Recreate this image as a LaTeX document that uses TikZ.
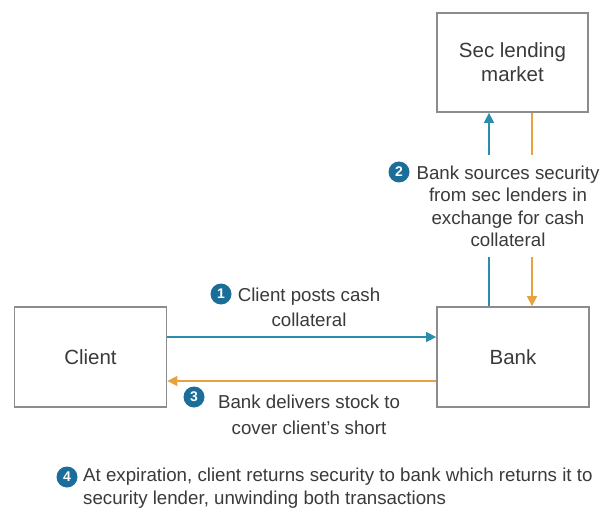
\documentclass[tikz,border=0pt]{standalone}
\usepackage{fontspec}
\setmainfont{Liberation Sans}
\usetikzlibrary{arrows.meta}
\definecolor{boxgray}{HTML}{8C8C8C}
\definecolor{txt}{HTML}{3A3A3A}
\definecolor{tealarr}{HTML}{2A8DAE}
\definecolor{orarr}{HTML}{E6A23C}
\definecolor{numblue}{HTML}{1A6E99}
\tikzset{
  box/.style={draw=boxgray, line width=1.8pt, fill=white, inner sep=0pt, text=txt, align=center, font=\fontsize{20.5}{24}\selectfont},
  lbl/.style={text=txt, inner sep=0pt, font=\fontsize{18.7}{22.5}\selectfont},
  num/.style={circle, fill=numblue, text=white, inner sep=0pt, minimum size=21pt, font=\fontsize{14}{14}\selectfont\bfseries},
  bluearr/.style={draw=tealarr, line width=1.5pt, -{Triangle[length=10pt,width=10pt]}},
  bluel/.style={draw=tealarr, line width=1.5pt},
  orarrow/.style={draw=orarr, line width=1.5pt, -{Triangle[length=10pt,width=10pt]}},
  orl/.style={draw=orarr, line width=1.5pt}
}
\begin{document}
\begin{tikzpicture}[x=1pt,y=-1pt]
\useasboundingbox[fill=white] (0,0) rectangle (610,513);
% boxes
\node[box, minimum width=152pt, minimum height=100pt] (client) at (90.5,357) {Client};
\node[box, minimum width=152pt, minimum height=100pt] (bank) at (513,357) {Bank};
\node[box, minimum width=151pt, minimum height=99pt] (sec) at (512.5,62.5) {Sec lending\\market};
% label 1
\node[num] (n1) at (221,294) {1};
\node[lbl, align=center, font=\fontsize{18.7}{25}\selectfont] (l1) at (309,307.5) {Client posts cash\\collateral};
% label 3
\node[num] (n3) at (194,397) {3};
\node[lbl, align=center, font=\fontsize{18.7}{25.5}\selectfont] (l3) at (309,415) {Bank delivers stock to\\cover client's short};
% label 2
\node[num] (n2) at (399,172) {2};
\node[lbl, align=center] (l2) at (508,206.5) {Bank sources security\\from sec lenders in\\exchange for cash\\collateral};
% label 4
\node[num] (n4) at (67,477) {4};
\node[lbl, align=left, anchor=west, font=\fontsize{18.7}{23}\selectfont] (l4) at (83,488.5) {At expiration, client returns security to bank which returns it to\\security lender, unwinding both transactions};
% coordinates
\coordinate (by) at (0,337);
\coordinate (oy) at (0,381);
\coordinate (bx) at (489,0);
\coordinate (ox) at (532,0);
\coordinate (gtop) at (0,155);
\coordinate (gbot) at (0,257);
% horizontal arrows
\draw[bluearr] (client.east |- by) -- (bank.west |- by);
\draw[orarrow] (bank.west |- oy) -- (client.east |- oy);
% vertical arrows
\draw[bluel] (bank.north -| bx) -- (bx |- gbot);
\draw[bluearr] (bx |- gtop) -- (sec.south -| bx);
\draw[orl] (sec.south -| ox) -- (ox |- gtop);
\draw[orarrow] (ox |- gbot) -- (bank.north -| ox);
\end{tikzpicture}
\end{document}
